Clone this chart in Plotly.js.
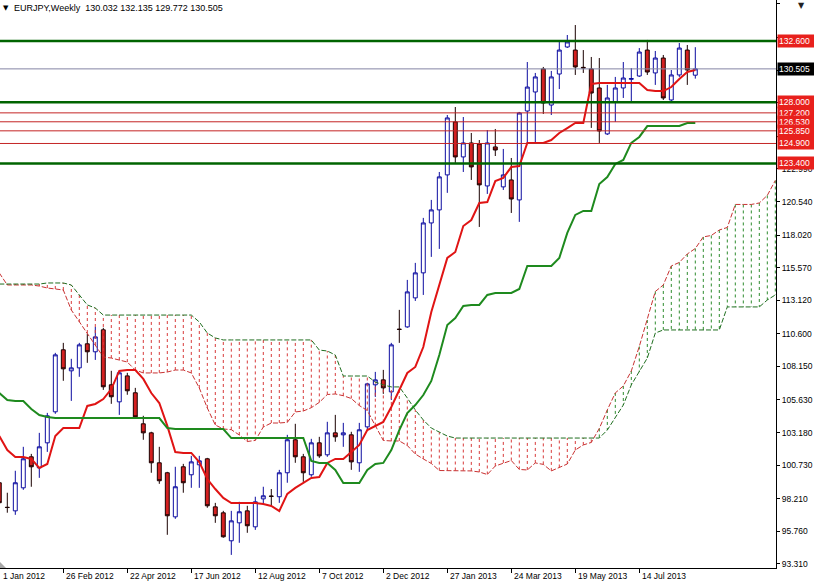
<!DOCTYPE html>
<html><head><meta charset="utf-8">
<script src="https://cdn.plot.ly/plotly-3.0.1.min.js"></script>
<style>html,body{margin:0;padding:0;background:#fff;overflow:hidden}#chart{width:814px;height:584px}</style>
</head><body><div id="chart"></div>
<script>
// ---- data (weekly EURJPY, first candle = week of 1 Jan 2012 -> index -1) ----
const symbolTitle = "EURJPY,Weekly";
const lastBar = {open: 130.032, high: 132.135, low: 129.772, close: 130.505};
const firstWeek = -1;

const openP  = [99.41,97.57,97.30,99.03,101.36,100.53,102.41,104.74,109.40,107.82,108.04,109.85,109.25,110.90,106.77,105.49,107.44,106.17,103.84,103.16,100.91,100.16,96.85,100.61,100.01,100.76,101.21,97.60,97.15,95.05,96.40,97.30,96.10,98.20,98.41,98.36,100.16,102.64,101.36,100.01,102.41,101.51,103.16,103.01,103.01,100.91,103.61,106.77,107.14,106.24,110.95,111.12,113.30,115.18,118.93,119.91,122.54,126.52,123.89,124.94,124.86,121.71,124.64,121.64,122.16,120.66,127.34,128.77,130.50,127.79,130.12,132.15,131.92,130.62,130.50,129.07,125.62,128.02,129.07,129.72,129.97,131.92,130.20,131.32,128.17,130.05,131.92,130.032];
const highP  = [99.78,98.66,100.31,102.11,101.58,103.16,104.66,109.17,109.92,108.72,109.92,110.60,111.12,111.05,107.82,107.74,107.67,106.54,104.44,103.24,102.11,100.23,100.61,100.83,101.43,101.43,101.28,97.90,97.30,97.30,97.98,97.68,98.36,99.11,98.94,100.38,103.01,103.84,101.58,102.71,102.86,103.99,104.51,103.91,103.24,103.91,106.92,107.74,107.89,109.92,112.40,114.65,115.93,119.31,120.66,122.76,127.04,127.64,126.89,125.69,125.16,125.91,125.99,124.49,123.81,127.27,131.02,130.20,130.65,130.35,132.53,133.05,133.80,131.92,131.40,131.32,129.30,129.90,131.02,130.57,132.07,132.68,131.85,131.55,130.42,132.45,132.30,132.135];
const lowP   = [97.23,97.16,97.00,98.88,99.11,99.78,101.73,104.59,107.07,105.56,107.37,108.42,108.64,106.39,105.34,104.51,106.02,104.30,102.64,100.16,99.33,95.50,96.70,98.66,99.03,99.03,97.53,96.40,95.28,93.99,94.90,95.65,95.87,97.75,97.68,97.90,99.41,100.91,99.48,99.86,101.28,101.36,102.49,102.11,100.38,100.23,103.39,105.86,106.09,105.63,109.92,111.05,113.07,113.52,116.38,116.98,121.19,123.44,122.76,122.16,118.63,121.11,123.96,121.41,119.68,119.01,124.94,124.94,127.12,127.04,128.99,132.08,130.05,130.20,126.07,124.94,125.54,126.52,128.32,128.02,129.90,130.05,129.30,128.17,128.02,129.90,129.30,129.772];
const closeP = [97.91,97.55,99.41,101.21,100.61,102.11,104.44,109.02,107.97,108.04,109.77,109.25,110.37,106.62,105.87,107.67,106.32,104.36,103.16,100.91,99.56,96.93,99.11,99.41,100.98,101.06,97.68,96.93,95.35,96.55,97.23,96.18,97.98,98.43,98.39,100.16,102.64,101.36,100.16,102.41,101.43,103.16,102.86,103.16,100.98,103.39,106.84,107.14,106.54,109.77,110.93,113.75,115.18,118.93,119.91,122.39,126.82,123.89,124.94,123.14,121.79,124.94,124.41,122.54,120.73,127.19,129.14,129.90,127.94,129.90,131.92,132.53,130.65,130.58,128.69,125.84,128.32,129.07,129.82,129.78,131.77,130.27,131.32,128.32,130.05,132.07,130.42,130.505];

const tenkan = [102.92,101.87,101.35,101.35,101.20,100.52,100.82,102.92,103.52,103.52,103.52,105.18,105.33,105.70,106.45,107.81,107.88,107.88,107.21,106.15,105.40,103.68,101.72,101.65,101.65,100.97,99.69,98.94,98.27,97.89,97.89,97.89,97.89,97.82,97.67,97.29,98.57,99.02,99.39,99.77,99.84,100.90,101.20,101.20,101.72,102.25,103.37,103.68,103.98,105.10,106.38,107.66,108.11,109.61,112.24,114.27,116.30,116.75,118.70,119.15,120.43,120.50,122.08,122.31,123.13,123.21,124.94,124.94,124.94,125.16,125.69,126.06,126.44,126.44,129.37,129.45,129.45,129.45,129.45,129.45,129.45,128.92,128.84,128.84,129.14,129.75,130.27,130.42];
const kijun  = [106.15,105.63,105.55,105.55,104.95,104.50,104.35,104.27,104.27,104.27,104.27,104.27,104.27,104.27,104.27,104.27,104.27,104.27,104.27,104.27,104.27,103.52,103.45,103.45,103.45,103.45,103.45,103.45,103.45,102.77,102.77,102.77,102.77,102.77,102.77,102.77,102.77,102.77,102.77,101.05,100.90,100.90,100.37,99.39,99.39,99.39,100.37,100.82,100.90,101.87,103.37,104.65,105.25,106.00,107.06,109.01,111.26,111.79,112.69,112.77,112.77,113.52,113.67,113.67,113.67,113.97,115.70,115.70,115.70,115.70,116.30,118.18,119.53,119.83,119.83,121.86,122.38,123.36,123.66,124.94,125.39,126.21,126.21,126.21,126.21,126.21,126.44,126.44];

// cloud, index -1 .. 96 (already shifted forward)
const spanA = [115.17,114.27,114.27,114.27,114.27,114.19,114.04,113.97,113.89,112.39,111.49,110.66,109.76,108.86,108.78,108.63,108.48,107.88,107.66,107.66,107.66,107.73,107.88,107.88,107.66,106.53,105.03,103.75,103.45,103.40,103.00,102.51,102.59,103.60,103.90,103.90,103.95,104.73,104.80,105.05,105.45,106.04,106.08,105.95,105.74,105.21,104.84,103.70,102.59,102.55,102.55,102.21,101.57,101.20,100.86,100.33,100.33,100.33,100.33,100.30,100.22,100.03,100.67,100.90,101.08,100.41,100.37,100.90,100.79,100.30,100.56,100.82,101.87,102.25,102.44,103.49,104.88,106.16,106.68,107.81,109.65,111.64,113.78,114.27,115.70,115.96,116.60,117.01,117.88,117.99,118.40,118.59,120.32,120.32,120.32,120.43,121.00,122.12];
const spanB = [114.34,114.34,114.34,114.34,114.34,114.34,114.42,114.42,114.42,114.27,113.52,112.77,112.54,112.01,112.01,112.01,112.01,112.01,112.01,112.01,112.01,112.01,112.01,112.01,112.01,111.49,110.66,110.29,110.14,110.14,110.14,110.14,110.14,110.14,110.14,110.14,110.14,110.14,110.14,110.14,109.38,109.31,109.01,107.43,107.43,107.43,107.43,106.98,106.76,106.61,106.61,105.78,104.88,104.13,103.52,103.22,102.92,102.77,102.77,102.77,102.77,102.77,102.77,102.77,102.77,102.77,102.77,102.77,102.77,102.77,102.77,102.77,102.77,102.77,102.77,102.77,103.37,104.35,105.25,106.76,107.73,108.78,110.66,110.89,110.89,110.89,110.89,110.89,110.89,110.89,110.89,112.62,112.62,112.62,112.62,112.62,113.14,113.52];

const xTickWeeks  = [-1, 7, 15, 23, 31, 39, 47, 55, 63, 71, 79];
const xTickLabels = ["1 Jan 2012","26 Feb 2012","22 Apr 2012","17 Jun 2012","12 Aug 2012","7 Oct 2012","2 Dec 2012","27 Jan 2013","24 Mar 2013","19 May 2013","14 Jul 2013"];
const yTickVals = [93.31,95.76,98.21,100.73,103.18,105.63,108.15,110.60,113.12,115.57,118.02,120.54,122.99,125.44,127.96,130.41,132.86,135.38];

const greenLevels = [132.6, 128.0, 123.4];
const redLevels   = [127.2, 126.53, 125.85, 124.9];

// ---- build ----
const xRange = [-0.9125, 96.0875];
const yRange = [93.006, 135.68];
const barX   = openP.map((_, i) => i + firstWeek);
const cloudX = spanA.map((_, i) => i + firstWeek);

const hatchRed = {x: [], y: []}, hatchGreen = {x: [], y: []};
cloudX.forEach((x, i) => {
  const t = spanB[i] > spanA[i] ? hatchRed : hatchGreen;
  t.x.push(x, x, null); t.y.push(spanA[i], spanB[i], null);
});

const font = 'Liberation Sans, Arial, sans-serif';
const traces = [
  {type:'scatter', mode:'lines', x: hatchRed.x, y: hatchRed.y, line:{color:'#d83a3a', width:1, dash:'3px,3px'}, hoverinfo:'skip', showlegend:false},
  {type:'scatter', mode:'lines', x: hatchGreen.x, y: hatchGreen.y, line:{color:'#2e8b2e', width:1, dash:'3px,3px'}, hoverinfo:'skip', showlegend:false},
  {type:'scatter', mode:'lines', x: cloudX, y: spanA, line:{color:'#c83232', width:1, dash:'5px,2px'}, hoverinfo:'skip', showlegend:false},
  {type:'scatter', mode:'lines', x: cloudX, y: spanB, line:{color:'#1f6e1f', width:1, dash:'5px,2px'}, hoverinfo:'skip', showlegend:false},
  {type:'candlestick', x: barX, open: openP, high: highP, low: lowP, close: closeP,
   increasing:{line:{color:'#0c0ca0', width:1}, fillcolor:'#ffffff'},
   decreasing:{line:{color:'#1a0000', width:1}, fillcolor:'#d42020'},
   whiskerwidth:0, hoverinfo:'skip', showlegend:false},
  {type:'scatter', mode:'lines', x: barX, y: tenkan, line:{color:'#e01414', width:2}, hoverinfo:'skip', showlegend:false},
  {type:'scatter', mode:'lines', x: barX, y: kijun, line:{color:'#1e8a1e', width:2}, hoverinfo:'skip', showlegend:false}
];

const shapes = [];
greenLevels.forEach(v => shapes.push({type:'line', xref:'paper', x0:0, x1:1, yref:'y', y0:v, y1:v, line:{color:'#006400', width:2.5}}));
redLevels.forEach(v => shapes.push({type:'line', xref:'paper', x0:0, x1:1, yref:'y', y0:v, y1:v, line:{color:'#c42424', width:1}}));
shapes.push({type:'line', xref:'paper', x0:0, x1:1, yref:'y', y0:lastBar.close, y1:lastBar.close, line:{color:'#8484a4', width:1}});
// small grey corner marker (bottom-left)
shapes.push({type:'path', xref:'paper', yref:'paper', xsizemode:'pixel', ysizemode:'pixel', xanchor:0, yanchor:0,
  path:'M0,0 L6,0 L0,6 Z', fillcolor:'#a8a8a8', line:{width:0}});

const annotations = [];
xTickWeeks.forEach((w, i) => annotations.push({
  xref:'x', x: Math.max(w, xRange[0] + 0.01), yref:'paper', y:0, xanchor:'left', yanchor:'top',
  xshift:1, yshift:-1, showarrow:false, text: xTickLabels[i], font:{family:font, size:8.5, color:'#000'}}));
const boxLevels = [greenLevels[0], greenLevels[1], redLevels[0], redLevels[1], redLevels[2], redLevels[3], greenLevels[2]];
boxLevels.forEach(v => annotations.push({
  xref:'paper', x:1, yref:'y', y:v, xanchor:'left', yanchor:'middle', xshift:1, showarrow:false,
  text: v.toFixed(3), align:'left', width:40, bgcolor:'#e8201c', borderpad:1,
  font:{family:font, size:8.5, color:'#ffffff'}}));
annotations.push({xref:'paper', x:1, yref:'y', y:lastBar.close, xanchor:'left', yanchor:'middle', xshift:1, showarrow:false,
  text: lastBar.close.toFixed(3), align:'left', width:40, bgcolor:'#000000', borderpad:1,
  font:{family:font, size:8.5, color:'#ffffff'}});
annotations.push({xref:'paper', x:0, yref:'paper', y:1, xanchor:'left', yanchor:'top', xshift:1, yshift:-2, showarrow:false,
  text:'▼', font:{family:'DejaVu Sans', size:7, color:'#000'}});
annotations.push({xref:'paper', x:0, yref:'paper', y:1, xanchor:'left', yanchor:'top', xshift:12, yshift:-1, showarrow:false,
  text: symbolTitle + '\u00a0\u00a0' + [lastBar.open, lastBar.high, lastBar.low, lastBar.close].map(v => v.toFixed(3)).join(' '),
  font:{family:font, size:9, color:'#000'}});
annotations.push({xref:'paper', x:1.0335, yref:'paper', y:1, xanchor:'center', yanchor:'top', showarrow:false, yshift:1,
  text:'▼', font:{family:'DejaVu Sans', size:8, color:'#222'}});

const layout = {
  width:814, height:584, margin:{l:0, r:38, t:0, b:16},
  paper_bgcolor:'#ffffff', plot_bgcolor:'#ffffff', showlegend:false, hovermode:false, dragmode:false,
  xaxis:{type:'linear', range:xRange, rangeslider:{visible:false}, showgrid:false, zeroline:false,
    showline:true, linecolor:'#000', linewidth:1, ticks:'outside', ticklen:4, tickcolor:'#000',
    tickvals:xTickWeeks, showticklabels:false, fixedrange:true},
  yaxis:{side:'right', range:yRange, showgrid:false, zeroline:false, showline:true, linecolor:'#000', linewidth:1,
    ticks:'outside', ticklen:3, tickcolor:'#000', tickvals:yTickVals, ticktext:yTickVals.map(v => v.toFixed(3)),
    tickfont:{family:font, size:8.5, color:'#000'}, fixedrange:true},
  shapes:shapes, annotations:annotations
};
Plotly.newPlot('chart', traces, layout, {staticPlot:true, displayModeBar:false});
</script></body></html>
